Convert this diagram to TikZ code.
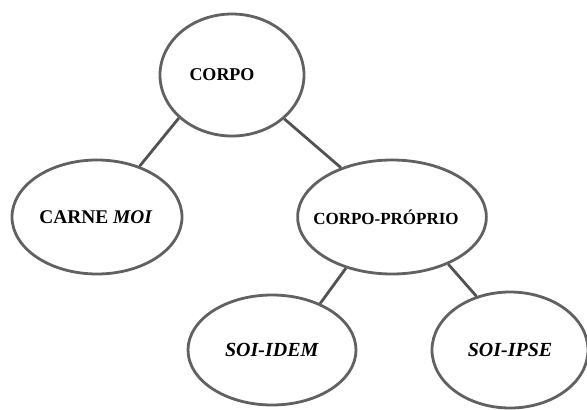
\documentclass[tikz,border=0pt]{standalone}
\usepackage{fontspec}
\setmainfont{Liberation Serif}
\usetikzlibrary{shapes.geometric}
\begin{document}
\begin{tikzpicture}[x=1pt,y=-1pt,
  oval/.style={ellipse, draw=black!62, line width=2.8pt, fill=white, inner sep=0pt,
    font=\fontsize{18}{20}\selectfont\bfseries},
  link/.style={draw=black!68, line width=2.8pt}]
\useasboundingbox (0,0) rectangle (587,410);
\node[oval, minimum width=144pt, minimum height=122pt] (corpo) at (232,75) {\hspace*{-20pt}CORPO};
\node[oval, minimum width=170pt, minimum height=114pt] (carne) at (97,217) {\hspace*{-2pt}\fontsize{19.4}{20}\selectfont CARNE \textit{MOI}};
\node[oval, minimum width=172pt, minimum height=114pt] (cp) at (392,217) {\hspace*{-12pt}\fontsize{17}{20}\selectfont CORPO-PRÓPRIO};
\node[oval, minimum width=168pt, minimum height=110pt] (idem) at (272,350) {\fontsize{20}{22}\selectfont\textit{SOI-IDEM}};
\node[oval, minimum width=156pt, minimum height=116pt] (ipse) at (510,350) {\fontsize{20}{22}\selectfont\textit{SOI-IPSE}};
\draw[link] (corpo.219) -- (carne.50);
\draw[link] (corpo.320) -- (cp.136);
\draw[link] (cp.228) -- (idem.44);
\draw[link] (cp.320) -- (ipse.122);
\end{tikzpicture}
\end{document}
